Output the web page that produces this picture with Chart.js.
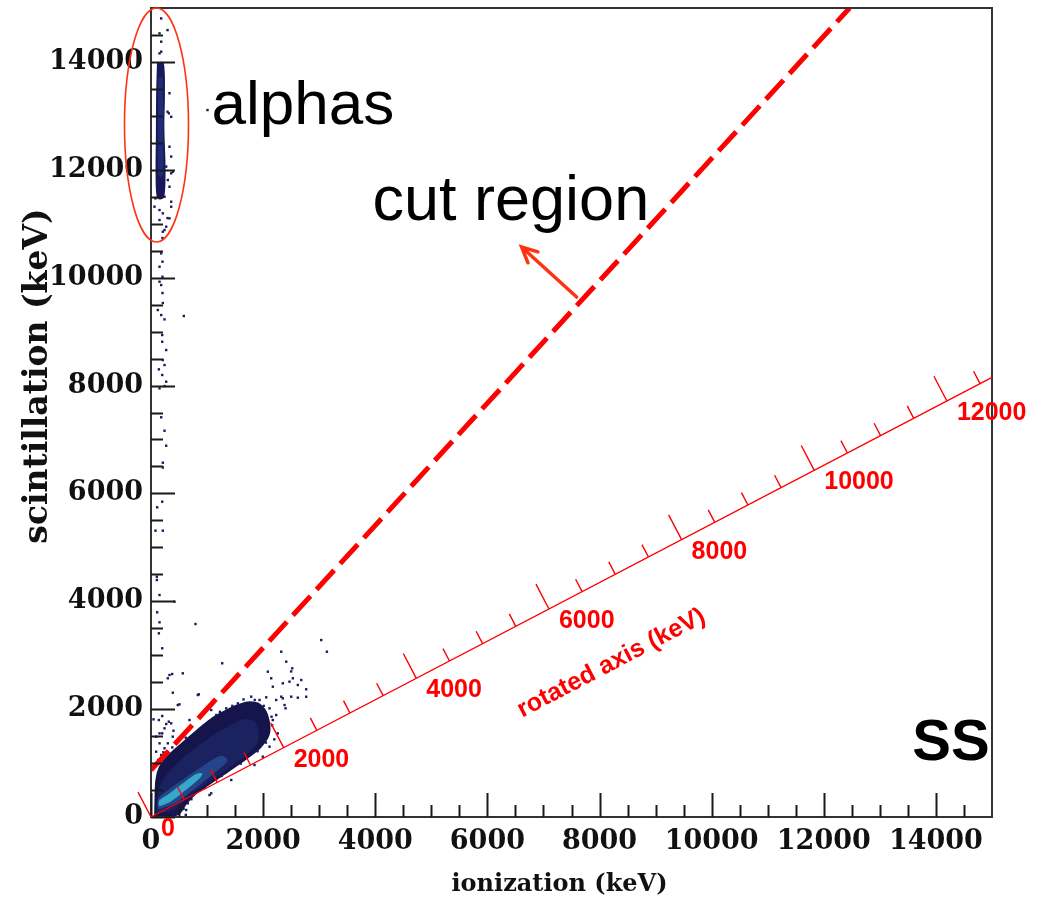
<!DOCTYPE html>
<html>
<head>
<meta charset="utf-8">
<script src="https://cdn.jsdelivr.net/npm/chart.js@4.4.1/dist/chart.umd.min.js"></script>
<style>
  html, body { margin: 0; padding: 0; background: #ffffff; }
  canvas { display: block; }
</style>
</head>
<body>
<canvas id="chart" width="1037" height="909"></canvas>
<script>
// ---- axes (keV) ----
const xTickValues = [0, 2000, 4000, 6000, 8000, 10000, 12000, 14000];
const yTickValues = [0, 2000, 4000, 6000, 8000, 10000, 12000, 14000];
const axisRange = [0, 15000];
const minorStep = 500;

// ---- gamma/beta population: nested density contours [ionization, scintillation] ----
const bandOuter = [[70,20],[300,10],[500,60],[630,250],[810,440],[1100,650],[1400,860],[1700,1080],[1960,1300],[2110,1550],[2080,1880],[1950,2080],[1760,2130],[1560,2080],[1380,2000],[1100,1840],[810,1600],[520,1340],[280,1110],[150,920],[90,680],[75,300]];
const bandMid = [[110,80],[400,140],[700,420],[1050,680],[1400,930],[1700,1170],[1900,1420],[1850,1750],[1650,1800],[1350,1650],[1000,1420],[650,1150],[350,850],[160,550]];
const bandInner = [[130,150],[450,280],[800,560],[1150,850],[1350,1050],[1250,1120],[950,950],[600,700],[300,480],[140,330]];
const bandCore = [[150,210],[350,300],[600,500],[850,720],[900,800],[800,780],[560,600],[330,420],[160,300]];

// ---- alpha population ----
const alphaOuter = [[120,13980],[215,13980],[235,13400],[225,12800],[245,12100],[240,11650],[210,11480],[120,11480],[95,11900],[100,12600],[105,13400]];
const alphaInner = [[140,13700],[195,13700],[205,12700],[200,11900],[150,11900],[135,12700]];

// ---- isolated events [ionization, scintillation] ----
const sparseEvents = [
  [182,14807],[295,14590],[152,14530],[182,14375],[182,14190],[152,14159],[330,13420],[295,13077],
  [360,12983],[1008,13108],[318,13047],[330,12428],[360,12245],[271,12059],[389,11964],[360,11935],
  [300,11810],[330,11686],[241,11501],[360,11408],[360,11315],[152,11254],[211,11193],[295,11105],
  [330,11100],[152,11069],[271,10945],[241,10884],[211,10852],[205,10735],[62,11316],[80,11470],
  [182,10451],[205,10296],[152,10203],[205,10017],[152,9925],[182,9863],[205,9715],[211,9530],
  [585,9289],[122,9400],[182,9307],[241,9227],[200,8936],[200,8812],[271,8658],[211,8473],
  [241,8380],[140,8300],[200,8195],[271,8071],[152,7948],[241,7990],[182,7411],[241,7162],
  [271,6884],[211,6569],[211,6480],[200,5846],[110,5742],[80,5309],[211,5309],[104,4455],
  [104,4394],[152,4116],[419,3992],[110,3795],[152,3610],[794,3578],[140,3406],[200,3128],
  [3036,3281],[3137,3065],[2323,3065],[1270,2850],[2412,2880],[2519,2757],[2500,2700],[2084,2694],
  [2144,2572],[2530,2572],[2680,2540],[2619,2447],[2351,2479],[2470,2509],[2173,2416],[2768,2368],
  [2619,2212],[2768,2230],[2351,2200],[2233,2169],[2400,2015],
  [330,2633],[300,2572],[378,2651],[567,2664],[389,2304],[853,2275],[508,2089],[45,1811],
  [140,1798],[200,1872],[271,1724],[318,1767],[401,1600],[200,1551],[92,1489],[389,1489],
  [152,1366],[241,1274],[92,1211],[182,1150],
  [835,2262],[1341,2015],[1787,2231],[1936,2169],[2055,2219],[2323,2231],[2382,2076],[2501,2231],
  [2114,2015],[2233,1891],[2173,1798],[241,1644],[152,1551],[360,1737],[478,2076],[300,1366],
  [687,1798],[1074,1984],[1163,1891],[1549,2107],[1074,439],[657,254],[478,56],[389,56],
  [1431,686],[1846,964],[1995,1118],[2114,1304],[2262,1551],[1044,408],[628,130],[449,98],
  [60,960],[130,1060],[220,1200],[380,1290],[620,1470],[930,1690],[1230,1950],[1650,2180],
  [2010,2060],[2160,1700],[2200,1440],[1900,1220],[1600,990],[1260,760],[960,540],[720,330],
  [580,150],[620,40],[2150,1860],[1850,2170],[1450,2060],[2050,1380]
];

// ---- cut line ----
const cutLine = [[0, 870], [12460, 15000]];

// ---- rotated axis ----
const rotAxisFrom = [0, 0];
const rotAxisTo = [15000, 8150];
const rotAxisMax = 12680;
const rotLabels = [0, 2000, 4000, 6000, 8000, 10000, 12000];
const rotTitle = 'rotated axis (keV)';

// ---- annotations ----
const alphaEllipse = { x: 98, y: 12830, rx: 571, ry: 2169 };
const cutArrow = { from: [7591, 9641], to: [6610, 10568] };
const notes = [
  { text: 'alphas', x: 1079, y: 12848, font: '62px "Liberation Sans", Arial, sans-serif', align: 'left', color: '#000000' },
  { text: 'cut region', x: 3951, y: 11068, font: '63px "Liberation Sans", Arial, sans-serif', align: 'left', color: '#000000' },
  { text: 'SS', x: 14959, y: 1057, font: 'bold 58px "Liberation Sans", Arial, sans-serif', align: 'right', color: '#000000' }
];
const xTitle = 'ionization (keV)';
const yTitle = 'scintillation (keV)';

const pts = arr => arr.map(([x, y]) => ({ x, y }));
const closed = arr => pts(arr.concat([arr[0]]));

// filled density contour; higher order values are drawn first (underneath)
function contour(arr, color, order) {
  return {
    type: 'line', data: closed(arr), fill: 'shape', backgroundColor: color,
    borderColor: color, borderWidth: 1.5, pointRadius: 0, tension: 0.3, order
  };
}

const decorPlugin = {
  id: 'decor',
  afterDraw(chart) {
    const { ctx, chartArea: a, scales: { x: xs, y: ys } } = chart;
    const px = v => xs.getPixelForValue(v);
    const py = v => ys.getPixelForValue(v);
    ctx.save();

    // frame
    ctx.strokeStyle = '#333333';
    ctx.lineWidth = 2;
    ctx.strokeRect(a.left, a.top, a.right - a.left, a.bottom - a.top);

    // inward ticks on bottom and left axes
    ctx.strokeStyle = '#1a1a1a';
    ctx.lineWidth = 2;
    ctx.beginPath();
    for (let v = axisRange[0]; v < axisRange[1]; v += minorStep) {
      const major = v % 2000 === 0;
      const len = major ? 24 : 12;
      const x = Math.round(px(v)) + 0.5;
      ctx.moveTo(x, a.bottom);
      ctx.lineTo(x, a.bottom - len);
      const y = Math.round(py(v)) + 0.5;
      ctx.moveTo(a.left, y);
      ctx.lineTo(a.left + len, y);
    }
    ctx.stroke();

    // rotated axis
    const x0 = px(rotAxisFrom[0]), y0 = py(rotAxisFrom[1]);
    const x1 = px(rotAxisTo[0]), y1 = py(rotAxisTo[1]);
    const L = Math.hypot(x1 - x0, y1 - y0);
    const ux = (x1 - x0) / L, uy = (y1 - y0) / L;
    const nx = uy, ny = -ux;
    ctx.strokeStyle = '#ff0000';
    ctx.lineWidth = 1.4;
    ctx.beginPath();
    ctx.moveTo(x0, y0);
    ctx.lineTo(x1, y1);
    for (let v = 0; v <= rotAxisMax; v += minorStep) {
      const d = v / rotAxisMax * L;
      const tx = x0 + ux * d, ty = y0 + uy * d;
      const len = v % 2000 === 0 ? 28 : 14;
      ctx.moveTo(tx, ty);
      ctx.lineTo(tx + nx * len, ty + ny * len);
    }
    ctx.stroke();
    ctx.fillStyle = '#ff0000';
    ctx.font = 'bold 25px "Liberation Sans", Arial, sans-serif';
    ctx.textAlign = 'left';
    ctx.textBaseline = 'middle';
    rotLabels.forEach(v => {
      const d = v / rotAxisMax * L;
      ctx.fillText(String(v), x0 + ux * d + 10, y0 + uy * d + 12);
    });
    const dt = 0.505 * L;
    ctx.save();
    ctx.translate(x0 + ux * dt - nx * 77, y0 + uy * dt - ny * 77);
    ctx.rotate(Math.atan2(uy, ux));
    ctx.textAlign = 'center';
    ctx.font = 'bold 25px "Liberation Sans", Arial, sans-serif';
    ctx.fillText(rotTitle, 0, 0);
    ctx.restore();

    // ellipse around alphas
    ctx.strokeStyle = '#ff3311';
    ctx.lineWidth = 1.6;
    ctx.beginPath();
    const ecx = px(alphaEllipse.x), ecy = py(alphaEllipse.y);
    ctx.ellipse(ecx, ecy, Math.abs(px(alphaEllipse.x + alphaEllipse.rx) - ecx),
      Math.abs(py(alphaEllipse.y + alphaEllipse.ry) - ecy), 0, 0, Math.PI * 2);
    ctx.stroke();

    // arrow toward cut region
    const ax0 = px(cutArrow.from[0]), ay0 = py(cutArrow.from[1]);
    const ax1 = px(cutArrow.to[0]), ay1 = py(cutArrow.to[1]);
    const ang = Math.atan2(ay1 - ay0, ax1 - ax0);
    ctx.strokeStyle = '#ff3311';
    ctx.lineWidth = 3.5;
    ctx.lineCap = 'round';
    ctx.beginPath();
    ctx.moveTo(ax0, ay0);
    ctx.lineTo(ax1, ay1);
    const head = 17;
    ctx.moveTo(ax1 - head * Math.cos(ang - 0.45), ay1 - head * Math.sin(ang - 0.45));
    ctx.lineTo(ax1, ay1);
    ctx.lineTo(ax1 - head * Math.cos(ang + 0.45), ay1 - head * Math.sin(ang + 0.45));
    ctx.stroke();

    // text notes
    ctx.textBaseline = 'alphabetic';
    notes.forEach(n => {
      ctx.font = n.font;
      ctx.fillStyle = n.color;
      ctx.textAlign = n.align;
      ctx.fillText(n.text, px(n.x), py(n.y));
    });

    // axis titles
    ctx.fillStyle = '#111111';
    ctx.textAlign = 'center';
    ctx.textBaseline = 'middle';
    ctx.font = 'bold 24px "DejaVu Serif", serif';
    ctx.fillText(xTitle, (a.left + a.right) / 2 - 12, 885);
    ctx.save();
    ctx.translate(38, 376);
    ctx.rotate(-Math.PI / 2);
    ctx.font = 'bold 33px "DejaVu Serif", serif';
    ctx.fillText(yTitle, 0, 0);
    ctx.restore();

    ctx.restore();
  }
};

const tickFont = { family: '"DejaVu Serif", serif', weight: 'bold', size: 27 };

new Chart(document.getElementById('chart'), {
  type: 'scatter',
  data: {
    datasets: [
      contour(bandOuter, '#15154c', 10),
      contour(bandMid, '#1a2260', 9),
      contour(bandInner, '#25458a', 8),
      contour(bandCore, '#36a8c8', 7),
      contour(alphaOuter, '#18185a', 10),
      contour(alphaInner, '#202c74', 9),
      {
        type: 'scatter', data: pts(sparseEvents), pointStyle: 'rect',
        pointRadius: 1.7, backgroundColor: '#1b1b5c', borderWidth: 0, order: 2
      },
      {
        type: 'line', data: pts(cutLine), borderColor: '#ff0000', borderWidth: 5,
        borderDash: [26, 9], pointRadius: 0, fill: false, order: 1
      }
    ]
  },
  options: {
    responsive: false,
    animation: false,
    devicePixelRatio: 1,
    layout: { padding: { left: 0, top: 8, right: 45, bottom: 0 } },
    plugins: { legend: { display: false }, tooltip: { enabled: false } },
    scales: {
      x: {
        type: 'linear', min: axisRange[0], max: axisRange[1],
        grid: { display: false, drawTicks: false }, border: { display: false },
        afterBuildTicks: s => { s.ticks = xTickValues.map(v => ({ value: v })); },
        afterFit: s => { s.height = 92; s.paddingLeft = 0; s.paddingRight = 0; },
        ticks: { font: tickFont, color: '#111111', padding: 9, maxRotation: 0, autoSkip: false, callback: v => String(v) }
      },
      y: {
        type: 'linear', min: axisRange[0], max: axisRange[1],
        grid: { display: false, drawTicks: false }, border: { display: false },
        afterBuildTicks: s => { s.ticks = yTickValues.map(v => ({ value: v })); },
        afterFit: s => { s.width = 151; s.paddingTop = 0; s.paddingBottom = 0; },
        ticks: { font: tickFont, color: '#111111', padding: 8, autoSkip: false, callback: v => String(v) }
      }
    }
  },
  plugins: [decorPlugin]
});
</script>
</body>
</html>
